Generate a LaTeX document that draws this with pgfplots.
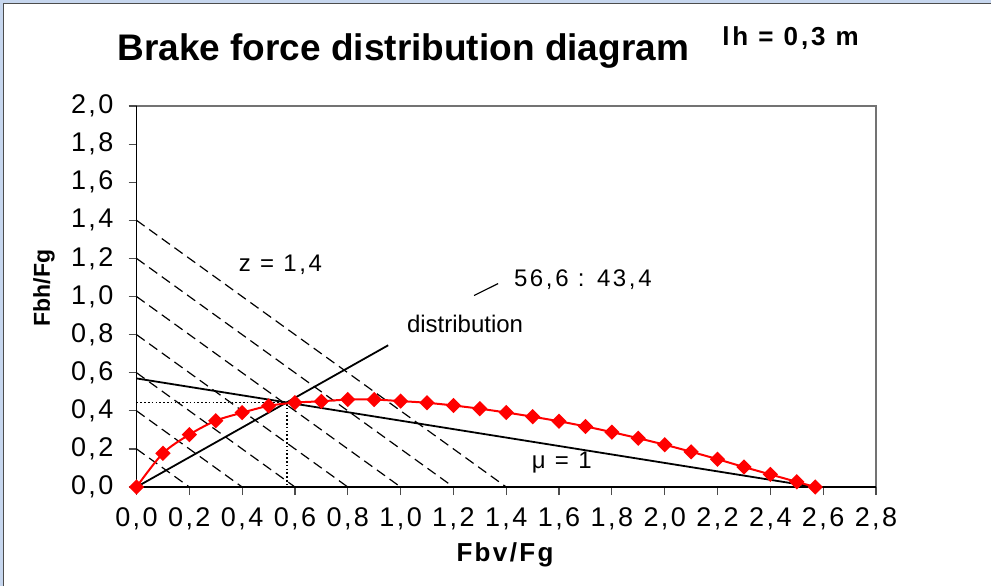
\documentclass[border=0pt]{standalone}
\usepackage{fontspec}
\setmainfont{Liberation Sans}
\newfontfamily\numfont[LetterSpace=11]{Liberation Sans}
\newfontfamily\tickfont[LetterSpace=9]{Liberation Sans}
\usepackage{pgfplots}
\pgfplotsset{compat=1.18}

\definecolor{framebl}{HTML}{C6D6EE}

\begin{document}
\begin{tikzpicture}
% page = 991 x 586 px at 0.5pt per px
\path[use as bounding box] (0,0) rectangle (495.5pt,293pt);
\fill[framebl] (0,291.5pt) rectangle (495.5pt,293pt);
\fill[framebl] (0,0) rectangle (1.5pt,293pt);
\draw[black!70,line width=0.5pt] (1.75pt,0) -- (1.75pt,291.25pt) -- (495.5pt,291.25pt);

\begin{axis}[
  at={(68.25pt,49.5pt)}, anchor=south west,
  scale only axis, width=369.75pt, height=190.5pt,
  xmin=0, xmax=2.8, ymin=0, ymax=2.0,
  xtick={0,0.2,0.4,0.6,0.8,1.0,1.2,1.4,1.6,1.8,2.0,2.2,2.4,2.6,2.8},
  ytick={0,0.2,0.4,0.6,0.8,1.0,1.2,1.4,1.6,1.8,2.0},
  tick pos=left, tick align=outside, major tick length=4pt,
  tick style={black!70, line width=0.6pt},
  tick label style={font=\tickfont\fontsize{13.5}{15}\selectfont},
  xticklabel style={yshift=-3pt},
  yticklabel style={xshift=-4pt},
  /pgf/number format/.cd, fixed, fixed zerofill, precision=1, use comma, assume math mode=true,
  /pgfplots/.cd,
  axis line style={draw=none},
  clip=false,
]
% z = const lines
\addplot[black, line width=0.6pt, dash pattern=on 5pt off 2.8pt] coordinates {(0,0.2) (0.2,0)};
\addplot[black, line width=0.6pt, dash pattern=on 5pt off 2.8pt] coordinates {(0,0.4) (0.4,0)};
\addplot[black, line width=0.6pt, dash pattern=on 5pt off 2.8pt] coordinates {(0,0.6) (0.6,0)};
\addplot[black, line width=0.6pt, dash pattern=on 5pt off 2.8pt] coordinates {(0,0.8) (0.8,0)};
\addplot[black, line width=0.6pt, dash pattern=on 5pt off 2.8pt] coordinates {(0,1.0) (1.0,0)};
\addplot[black, line width=0.6pt, dash pattern=on 5pt off 2.8pt] coordinates {(0,1.2) (1.2,0)};
\addplot[black, line width=0.6pt, dash pattern=on 5pt off 2.8pt] coordinates {(0,1.4) (1.4,0)};
% dotted guide to the intersection
\addplot[black, line width=0.7pt, dash pattern=on 0.8pt off 1.1pt] coordinates {(0,0.443) (0.57,0.443) (0.57,0)};
% mu = 1 line
\addplot[black, line width=0.9pt] coordinates {(0,0.57) (2.57,0.0)};
% installed distribution 56,6 : 43,4
\addplot[black, line width=0.9pt] coordinates {(0,0) (0.953,0.744)};
\addplot[black, line width=0.6pt] coordinates {(1.278,1.005) (1.369,1.068)};
% ideal distribution
\addplot[red, line width=1pt, smooth, mark=square*, mark size=2.2pt,
  mark options={rotate=45, fill=red, draw=red}] coordinates {
(0,0) (0.1,0.177) (0.2,0.275) (0.3,0.348) (0.4,0.390) (0.5,0.426)
(0.6,0.443) (0.7,0.450) (0.8,0.459) (0.9,0.459) (1.0,0.451) (1.1,0.442)
(1.2,0.428) (1.3,0.411) (1.4,0.391) (1.5,0.369) (1.6,0.345) (1.7,0.318)
(1.8,0.288) (1.9,0.256) (2.0,0.222) (2.1,0.185) (2.2,0.146) (2.3,0.105)
(2.4,0.066) (2.5,0.027) (2.57,0)
};
% axis lines
\draw[black!55, line width=0.6pt] (rel axis cs:0,1) -- (rel axis cs:1,1) -- (rel axis cs:1,0);
\draw[black, line width=0.8pt] (rel axis cs:0,1) -- (rel axis cs:0,0) -- (rel axis cs:1,0);
% annotations
\node[font=\numfont\fontsize{12}{14}\selectfont] at (axis cs:0.545,1.165) {z = 1,4};
\node[font=\numfont\fontsize{12}{14}\selectfont] at (axis cs:1.69,1.09) {56,6 : 43,4};
\node[font=\fontsize{12}{14}\selectfont] at (axis cs:1.244,0.858) {distribution};
\node[font=\numfont\fontsize{12}{14}\selectfont] at (axis cs:1.61,0.13) {μ = 1};
\end{axis}

\node[anchor=base west, font=\fontsize{18.5}{22}\selectfont\bfseries, inner sep=0pt] at (58.5pt,263pt) {Brake force distribution diagram};
\node[anchor=base west, font=\numfont\fontsize{13}{15}\selectfont\bfseries, inner sep=0pt] at (361pt,270.5pt) {lh = 0,3 m};
\node[rotate=90, font=\fontsize{11.5}{13}\selectfont\bfseries] at (22pt,149pt) {Fbh/Fg};
\node[font=\tickfont\fontsize{13}{15}\selectfont\bfseries] at (252.5pt,15.5pt) {Fbv/Fg};
\end{tikzpicture}
\end{document}
